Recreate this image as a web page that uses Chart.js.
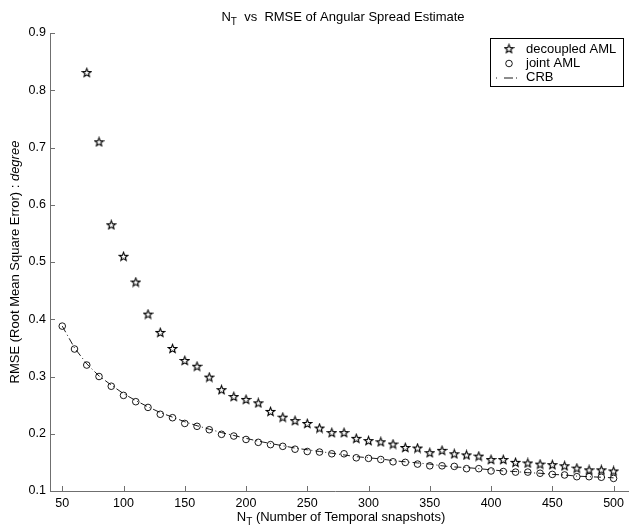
<!DOCTYPE html>
<html>
<head>
<meta charset="utf-8">
<script src="https://cdn.jsdelivr.net/npm/chart.js@4.4.1/dist/chart.umd.min.js"></script>
<style>
  html, body { margin: 0; padding: 0; background: #fff; }
  #c { display: block; }
</style>
</head>
<body>
<canvas id="c" width="629" height="531"></canvas>
<script>
// N_T values (x axis)
var nT = [50, 60, 70, 80, 90, 100, 110, 120, 130, 140, 150, 160, 170, 180, 190, 200,
  210, 220, 230, 240, 250, 260, 270, 280, 290, 300, 310, 320, 330, 340, 350, 360,
  370, 380, 390, 400, 410, 420, 430, 440, 450, 460, 470, 480, 490, 500];

// decoupled AML starts at N_T = 70
var decoupledX = nT.slice(2);
var decoupled = [0.831, 0.710, 0.565, 0.510, 0.465, 0.409, 0.377, 0.349, 0.328, 0.318,
  0.299, 0.277, 0.265, 0.260, 0.254, 0.239, 0.229, 0.223, 0.218, 0.210,
  0.202, 0.202, 0.192, 0.188, 0.186, 0.182, 0.176, 0.175, 0.167, 0.171,
  0.165, 0.163, 0.161, 0.155, 0.155, 0.150, 0.149, 0.147, 0.146, 0.144,
  0.140, 0.137, 0.137, 0.135];

var joint = [0.388, 0.348, 0.320, 0.300, 0.283, 0.267, 0.256, 0.246, 0.234, 0.228,
  0.218, 0.213, 0.207, 0.199, 0.196, 0.190, 0.185, 0.181, 0.178, 0.173,
  0.169, 0.168, 0.165, 0.165, 0.158, 0.157, 0.155, 0.151, 0.150, 0.147,
  0.144, 0.144, 0.143, 0.139, 0.139, 0.135, 0.134, 0.133, 0.133, 0.131,
  0.129, 0.128, 0.125, 0.125, 0.124, 0.122];

var crb = [0.388, 0.350, 0.322, 0.301, 0.285, 0.270, 0.258, 0.247, 0.237, 0.229,
  0.221, 0.214, 0.208, 0.202, 0.197, 0.192, 0.187, 0.183, 0.179, 0.175,
  0.172, 0.169, 0.166, 0.163, 0.160, 0.158, 0.156, 0.153, 0.151, 0.149,
  0.147, 0.144, 0.142, 0.141, 0.139, 0.137, 0.135, 0.134, 0.132, 0.131,
  0.129, 0.128, 0.126, 0.125, 0.124, 0.123];

var xTicks = [50, 100, 150, 200, 250, 300, 350, 400, 450, 500];
var yTicks = [0.1, 0.2, 0.3, 0.4, 0.5, 0.6, 0.7, 0.8, 0.9];
var seriesNames = ["decoupled AML", "joint AML", "CRB"];

var FONT = '"Liberation Sans", Arial, Helvetica, sans-serif';
var AXIS = "#6f6f6f";
var TXT = 13;

function pts(xs, ys) {
  return ys.map(function (v, i) { return { x: xs[i], y: v }; });
}

// MATLAB-like pentagram marker
function makeStar() {
  var c = document.createElement("canvas");
  c.width = 11; c.height = 11;
  var g = c.getContext("2d");
  g.strokeStyle = "#000";
  g.lineWidth = 1.1;
  g.beginPath();
  for (var i = 0; i < 10; i++) {
    var r = i % 2 ? 1.9 : 4.5;
    var a = -Math.PI / 2 + i * Math.PI / 5;
    var x = 5.5 + r * Math.cos(a), y = 5.9 + r * Math.sin(a);
    if (i === 0) g.moveTo(x, y); else g.lineTo(x, y);
  }
  g.closePath();
  g.stroke();
  return c;
}
var starImg = makeStar();

// inward ticks, title, axis labels, legend box
var decor = {
  id: "decor",
  afterDraw: function (chart) {
    var ctx = chart.ctx, a = chart.chartArea;
    var xs = chart.scales.x, ys = chart.scales.y;
    ctx.save();
    ctx.strokeStyle = AXIS;
    ctx.lineWidth = 1;
    ctx.beginPath();
    xTicks.forEach(function (v) {
      var px = Math.round(xs.getPixelForValue(v)) + 0.5;
      ctx.moveTo(px, a.bottom); ctx.lineTo(px, a.bottom - 5);
    });
    yTicks.forEach(function (v) {
      var py = Math.round(ys.getPixelForValue(v)) + 0.5;
      ctx.moveTo(a.left, py); ctx.lineTo(a.left + 5, py);
    });
    // x axis line runs on to the right edge of the picture
    ctx.moveTo(a.right, a.bottom + 0.5); ctx.lineTo(chart.width, a.bottom + 0.5);
    ctx.stroke();

    ctx.fillStyle = "#000";
    ctx.textBaseline = "alphabetic";
    ctx.textAlign = "left";

    // title: N_T  vs  RMSE ...
    drawSub(ctx, "N", "T", "  vs  RMSE of Angular Spread Estimate", 343, 21);
    // x label
    drawSub(ctx, "N", "T", " (Number of Temporal snapshots)", 341, 521);

    // y label (rotated), italic "degree"
    ctx.save();
    ctx.translate(18.5, (a.top + a.bottom) / 2);
    ctx.rotate(-Math.PI / 2);
    var p1 = "RMSE (Root Mean Square Error) : ", p2 = "degree";
    ctx.font = TXT + "px " + FONT;
    var w1 = ctx.measureText(p1).width;
    ctx.font = "italic " + TXT + "px " + FONT;
    var w2 = ctx.measureText(p2).width;
    var sx = -(w1 + w2) / 2;
    ctx.font = TXT + "px " + FONT;
    ctx.fillText(p1, sx, 0);
    ctx.font = "italic " + TXT + "px " + FONT;
    ctx.fillText(p2, sx + w1, 0);
    ctx.restore();

    // legend
    var lx = 490.5, ly = 38.5, lw = 133, lh = 48;
    ctx.fillStyle = "#fff";
    ctx.fillRect(lx, ly, lw, lh);
    ctx.strokeStyle = "#000";
    ctx.lineWidth = 1;
    ctx.strokeRect(lx, ly, lw, lh);
    var rows = [49, 63.5, 77.5];
    ctx.drawImage(starImg, 509 - 5.5, rows[0] - 5.9);
    ctx.beginPath();
    ctx.arc(509, rows[1], 3.3, 0, Math.PI * 2);
    ctx.lineWidth = 0.9;
    ctx.stroke();
    ctx.save();
    ctx.setLineDash([1, 7, 9, 3, 1, 3]);
    ctx.beginPath();
    ctx.moveTo(496, rows[2] + 0.5); ctx.lineTo(517, rows[2] + 0.5);
    ctx.stroke();
    ctx.restore();
    ctx.fillStyle = "#000";
    ctx.font = TXT + "px " + FONT;
    ctx.textBaseline = "middle";
    seriesNames.forEach(function (s, i) { ctx.fillText(s, 526, rows[i]); });
    ctx.restore();
  }
};

function drawSub(ctx, base, sub, rest, cx, y) {
  ctx.font = TXT + "px " + FONT;
  var wb = ctx.measureText(base).width, wr = ctx.measureText(rest).width;
  ctx.font = "10px " + FONT;
  var ws = ctx.measureText(sub).width;
  var x = cx - (wb + ws + wr) / 2;
  ctx.font = TXT + "px " + FONT;
  ctx.fillText(base, x, y);
  ctx.font = "10px " + FONT;
  ctx.fillText(sub, x + wb, y + 4);
  ctx.font = TXT + "px " + FONT;
  ctx.fillText(rest, x + wb + ws, y);
}

new Chart(document.getElementById("c"), {
  type: "scatter",
  data: {
    datasets: [
      { label: seriesNames[0], data: pts(decoupledX, decoupled), pointStyle: starImg, pointRadius: 5, showLine: false },
      { label: seriesNames[1], data: pts(nT, joint), pointStyle: "circle", pointRadius: 3.3, borderColor: "#000", borderWidth: 0.9, backgroundColor: "rgba(0,0,0,0)", showLine: false },
      { label: seriesNames[2], data: pts(nT, crb), showLine: true, pointRadius: 0, borderColor: "#000", borderWidth: 0.9, borderDash: [7, 3, 1, 3], tension: 0, fill: false }
    ]
  },
  options: {
    responsive: false,
    devicePixelRatio: 1,
    animation: false,
    layout: { autoPadding: false, padding: { top: 33, left: 0, right: 0, bottom: 0 } },
    plugins: { legend: { display: false }, tooltip: { enabled: false }, title: { display: false } },
    scales: {
      x: {
        type: "linear", min: 40, max: 505.3,
        afterBuildTicks: function (s) { s.ticks = xTicks.map(function (v) { return { value: v }; }); },
        afterFit: function (s) { s.height = 40; },
        grid: { drawOnChartArea: false, drawTicks: false },
        border: { display: true, color: AXIS, width: 1 },
        ticks: { color: "#000", font: { family: FONT, size: 12.5 }, padding: 5, maxRotation: 0, autoSkip: false }
      },
      y: {
        type: "linear", min: 0.1, max: 0.9,
        afterBuildTicks: function (s) { s.ticks = yTicks.map(function (v) { return { value: v }; }); },
        afterFit: function (s) { s.width = 50; },
        grid: { drawOnChartArea: false, drawTicks: false },
        border: { display: true, color: AXIS, width: 1 },
        ticks: { color: "#000", font: { family: FONT, size: 12.5 }, padding: 4, callback: function (v) { return v.toFixed(1); } }
      }
    }
  },
  plugins: [decor]
});
</script>
</body>
</html>
